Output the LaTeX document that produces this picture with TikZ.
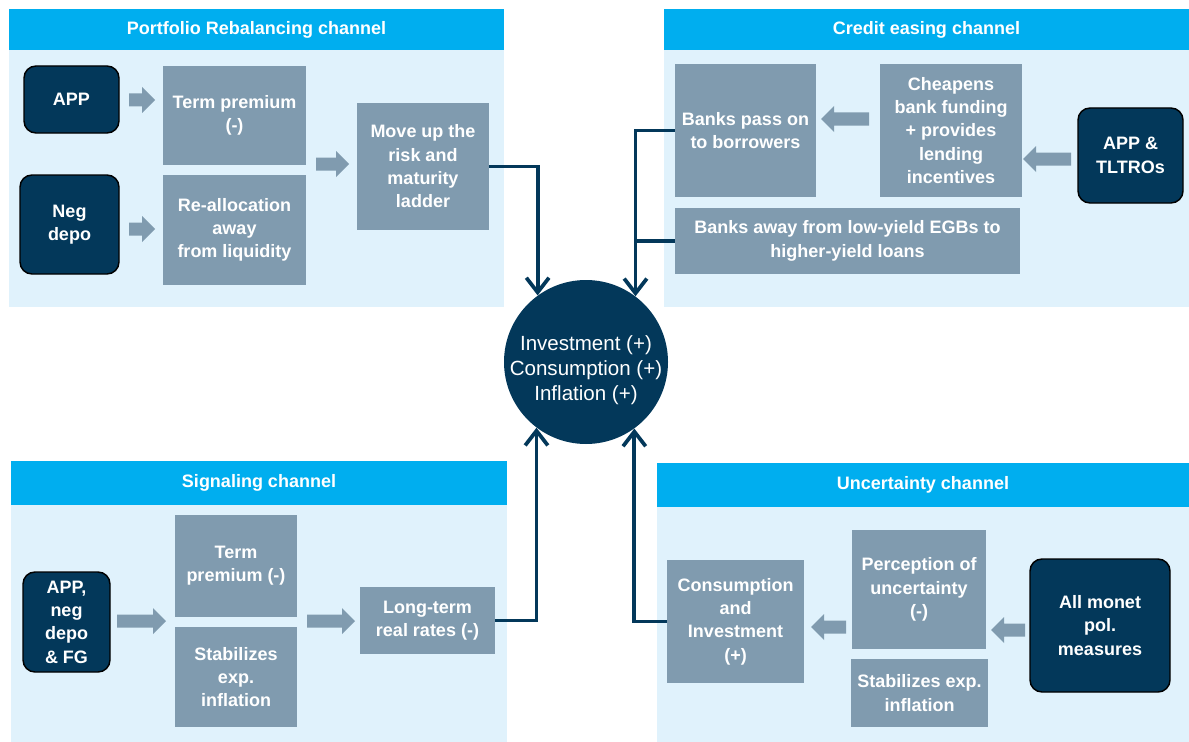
\documentclass[tikz,border=0pt]{standalone}
\usepackage{fontspec}
\setmainfont{Liberation Sans}
\usetikzlibrary{arrows.meta}

\definecolor{hdrblue}{RGB}{0,174,239}
\definecolor{panelblue}{RGB}{224,242,252}
\definecolor{stepgrey}{RGB}{128,155,175}
\definecolor{navy}{RGB}{3,56,90}

\tikzset{
  % rectangle given by its corners x1/y1/x2/y2 (picture units)
  spanrect/.style args={#1/#2/#3/#4}{
    at={({(#1+#3)/2},{(#2+#4)/2})}, anchor=center,
    minimum width={(#3-#1)*0.75pt}, minimum height={(#4-#2)*0.75pt}},
  panelbody/.style={rectangle, fill=panelblue, draw=none, inner sep=0pt},
  panelhead/.style={rectangle, fill=hdrblue, draw=none, inner sep=0pt, text=white,
    font=\bfseries\fontsize{13.5}{16}\selectfont},
  stepbox/.style={rectangle, fill=stepgrey, draw=none, inner sep=0pt, text=white, align=center,
    font=\bfseries\fontsize{13.5}{17.5}\selectfont},
  srcbox/.style={rectangle, fill=navy, draw=black, line width=1.1pt, rounded corners=9pt,
    inner sep=0pt, text=white, align=center,
    font=\bfseries\fontsize{13.5}{17.5}\selectfont},
  outcome/.style={circle, fill=navy, draw=none, minimum size=123pt, inner sep=0pt},
  outcometext/.style={text=white, align=center, inner sep=0pt,
    font=\fontsize{15.4}{18.8}\selectfont},
  link/.style={draw=navy, line width=2.8pt},
  tip/.style={-{Straight Barb[length=11pt,width=17pt]}},
  pics/blockarrow/.style={code={
    \fill[stepgrey] (0,-6.5) -- (#1-13,-6.5) -- (#1-13,-13) -- (#1,0)
      -- (#1-13,13) -- (#1-13,6.5) -- (0,6.5) -- cycle;}}
}

\begin{document}
\begin{tikzpicture}[x=0.75pt,y=-0.75pt]
\useasboundingbox (0,0) rectangle (1189,742);

% ---------- Portfolio rebalancing channel ----------
\node[panelbody, spanrect=9/50/504/307] (pr-body) {};
\node[panelhead, spanrect=9/9/504/50] (pr-head) {Portfolio Rebalancing channel};
\node[srcbox, spanrect=24/66/119/133] (pr-app) {APP};
\node[srcbox, spanrect=20/175/119/274] (pr-neg) {Neg\\depo};
\node[stepbox, spanrect=163/66/306/165] (pr-term) {Term premium\\(-)};
\node[stepbox, spanrect=163/175/306/285] (pr-realloc) {Re-allocation\\away\\from liquidity};
\node[stepbox, spanrect=357/103/489/230] (pr-move) {Move up the\\risk and\\maturity\\ladder};
\pic at (129,100) {blockarrow=26};
\pic at (129,229) {blockarrow=26};
\pic at (316,164) {blockarrow=33};

% ---------- Credit easing channel ----------
\node[panelbody, spanrect=664/50/1189/307] (ce-body) {};
\node[panelhead, spanrect=664/9/1189/50] (ce-head) {Credit easing channel};
\node[stepbox, spanrect=675/64/816/197] (ce-pass) {Banks pass on\\to borrowers};
\node[stepbox, spanrect=880/64/1022/197] (ce-cheap) {Cheapens\\bank funding\\+ provides\\lending\\incentives};
\node[srcbox, spanrect=1078/108/1183/203] (ce-src) {APP \&\\TLTROs};
\node[stepbox, spanrect=675/208/1020/274] (ce-away) {Banks away from low-yield EGBs to\\higher-yield loans};
\pic[xscale=-1] at (869,119) {blockarrow=48};
\pic[xscale=-1] at (1071,159) {blockarrow=48};

% ---------- Signaling channel ----------
\node[panelbody, spanrect=11/505/507/742] (sg-body) {};
\node[panelhead, spanrect=11/461/507/505] (sg-head) {Signaling channel};
\node[srcbox, spanrect=23/572/110/672] (sg-src) {APP,\\neg\\depo\\\& FG};
\node[stepbox, spanrect=175/515/297/617] (sg-term) {Term\\premium (-)};
\node[stepbox, spanrect=175/627/297/727] (sg-stab) {Stabilizes\\exp.\\inflation};
\node[stepbox, spanrect=360/587/495/654] (sg-real) {Long-term\\real rates (-)};
\pic at (117,621) {blockarrow=49};
\pic at (307,621) {blockarrow=48};

% ---------- Uncertainty channel ----------
\node[panelbody, spanrect=657/507/1189/742] (un-body) {};
\node[panelhead, spanrect=657/463/1189/507] (un-head) {Uncertainty channel};
\node[stepbox, spanrect=667/560/804/683] (un-cons) {Consumption\\and\\Investment\\(+)};
\node[stepbox, spanrect=852/530/986/649] (un-perc) {Perception of\\uncertainty\\(-)};
\node[stepbox, spanrect=851/659/988/727] (un-stab) {Stabilizes exp.\\inflation};
\node[srcbox, spanrect=1030/559/1170/692] (un-src) {All monet\\pol.\\measures};
\pic[xscale=-1] at (846,627) {blockarrow=35};
\pic[xscale=-1] at (1025,630) {blockarrow=34};

% ---------- Central outcome and links ----------
\node[outcome] (out) at (586,362) {};
\node[outcometext] (out-text) at (586,370) {Investment (+)\\Consumption (+)\\Inflation (+)};

\draw[link, tip] (pr-move.east) -| (out.126.7);
\draw[link, tip] (ce-pass.west) -| (out.53.3);
\draw[link] (ce-away.west) -- (ce-away.west -| out.53.3);
\draw[link, tip] (sg-real.east) -| (out.233.3);
\draw[link, tip] (un-cons.west) -| (out.306.7);
\end{tikzpicture}
\end{document}
